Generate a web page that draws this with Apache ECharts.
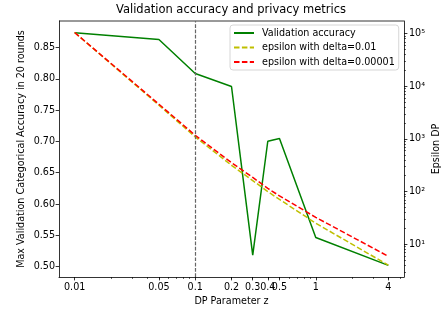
<!DOCTYPE html>
<html>
<head>
<meta charset="utf-8">
<script src="https://cdn.jsdelivr.net/npm/echarts@6/dist/echarts.min.js"></script>
<style>
  html, body { margin: 0; padding: 0; background: #fff; }
  #main { width: 443px; height: 311px; }
</style>
</head>
<body>
<div id="main"></div>
<script>
var myChart = echarts.init(document.getElementById('main'));

// DP noise parameter z (x axis)
const zValues = [0.01, 0.05, 0.1, 0.2, 0.3, 0.4, 0.5, 1, 4];
// max validation accuracy in 20 rounds
const accuracy = [0.874, 0.863, 0.8086, 0.7879, 0.5183, 0.7003, 0.7046, 0.5465, 0.5019];
// epsilon values
const epsDelta01 = [105000, 4365, 1096, 316, 162, 100, 71, 25.1, 4.0];
const epsDelta00001 = [105000, 4570, 1175, 355, 186, 115, 83, 32.4, 5.9];

const xTickLabels = ['0.01', '0.05', '0.1', '0.2', '0.3', '0.4', '0.5', '1', '4'];
const accTicks = [0.50, 0.55, 0.60, 0.65, 0.70, 0.75, 0.80, 0.85];
const epsTicks = [10, 100, 1000, 10000, 100000];
const supers = { 1: '\u00b9', 2: '\u00b2', 3: '\u00b3', 4: '\u2074', 5: '\u2075' };

// matplotlib style minor ticks
const xMinor = [];
[0.01, 0.1, 1].forEach(function (d) {
  for (let k = 2; k <= 9; k++) xMinor.push(d * k);
});
const yMinor = [];
[1, 10, 100, 1000, 10000, 100000].forEach(function (d) {
  for (let k = 2; k <= 9; k++) yMinor.push(d * k);
});

const pair = (ys) => zValues.map((z, i) => [z, ys[i]]);

const xMin = Math.pow(10, -2.13);
const xMax = Math.pow(10, 0.732);
const epsMin = Math.pow(10, 0.378);
const epsMax = Math.pow(10, 5.24);

const font = 'DejaVu Sans';
const fs = 9.6;
const axisColor = '#000';

option = {
  animation: false,
  title: {
    text: 'Validation accuracy and privacy metrics',
    left: 231,
    top: 4,
    padding: 0,
    textAlign: 'center',
    textStyle: { fontFamily: font, fontSize: 11.5, fontWeight: 'normal', color: '#000' }
  },
  grid: { left: 59, right: 39, top: 21, bottom: 34, outerBoundsMode: 'none', containLabel: false },
  legend: {
    orient: 'vertical',
    left: 230,
    top: 25,
    padding: [3, 4, 3, 3],
    itemWidth: 20,
    itemHeight: 10,
    itemGap: 4.5,
    borderColor: '#d6d6d6',
    borderWidth: 1,
    borderRadius: 3,
    backgroundColor: 'rgba(255,255,255,0.8)',
    itemStyle: { opacity: 0 },
    textStyle: { fontFamily: font, fontSize: fs, color: '#000', padding: [0, 0, 0, 3] },
    data: ['Validation accuracy', 'epsilon with delta=0.01', 'epsilon with delta=0.00001']
  },
  xAxis: [{
    type: 'log',
    logBase: 10,
    min: xMin,
    max: xMax,
    name: 'DP Parameter z',
    nameLocation: 'middle',
    nameGap: 19,
    nameMoveOverlap: false,
    nameTextStyle: { fontFamily: font, fontSize: fs, color: '#000' },
    axisLine: { lineStyle: { color: axisColor, width: 0.8 } },
    axisTick: { customValues: zValues, length: 3.4, lineStyle: { color: axisColor, width: 0.8 } },
    axisLabel: {
      customValues: zValues,
      margin: 5,
      fontFamily: font, fontSize: fs, color: '#000',
      formatter: function (v) {
        const i = zValues.findIndex((z) => Math.abs(z - v) / z < 1e-6);
        return i >= 0 ? xTickLabels[i] : '';
      }
    },
    splitLine: { show: false },
    minorTick: { show: false }
  }, {
    type: 'log',
    logBase: 10,
    min: xMin,
    max: xMax,
    position: 'bottom',
    axisLine: { show: false },
    axisLabel: { show: false },
    axisTick: { customValues: xMinor, length: 2, lineStyle: { color: axisColor, width: 0.6 } },
    splitLine: { show: false }
  }],
  yAxis: [{
    type: 'value',
    min: 0.4833,
    max: 0.8926,
    position: 'left',
    name: 'Max Validation Categorical Accuracy in 20 rounds',
    nameLocation: 'middle',
    nameGap: 33,
    nameMoveOverlap: false,
    nameTextStyle: { fontFamily: font, fontSize: fs, color: '#000' },
    axisLine: { show: true, lineStyle: { color: axisColor, width: 0.8 } },
    axisTick: { customValues: accTicks, length: 3.4, lineStyle: { color: axisColor, width: 0.8 } },
    axisLabel: {
      customValues: accTicks,
      margin: 4,
      fontFamily: font, fontSize: fs, color: '#000',
      formatter: (v) => v.toFixed(2)
    },
    splitLine: { show: false }
  }, {
    type: 'log',
    logBase: 10,
    min: epsMin,
    max: epsMax,
    position: 'right',
    name: 'Epsilon DP',
    nameLocation: 'middle',
    nameGap: 27,
    nameMoveOverlap: false,
    nameTextStyle: { fontFamily: font, fontSize: fs, color: '#000' },
    axisLine: { show: true, lineStyle: { color: axisColor, width: 0.8 } },
    axisTick: { customValues: epsTicks, length: 3.4, lineStyle: { color: axisColor, width: 0.8 } },
    axisLabel: {
      customValues: epsTicks,
      margin: 5,
      fontFamily: font, fontSize: fs, color: '#000',
      formatter: (v) => '10' + supers[Math.round(Math.log10(v))]
    },
    splitLine: { show: false }
  }, {
    type: 'log',
    logBase: 10,
    min: epsMin,
    max: epsMax,
    position: 'right',
    axisLine: { show: false },
    axisLabel: { show: false },
    axisTick: { customValues: yMinor.filter((v) => v > epsMin && v < epsMax), length: 2, lineStyle: { color: axisColor, width: 0.6 } },
    splitLine: { show: false }
  }],
  series: [{
    name: 'Validation accuracy',
    type: 'line',
    xAxisIndex: 0,
    yAxisIndex: 0,
    symbol: 'none',
    color: '#008000',
    lineStyle: { color: '#008000', width: 1.5 },
    data: pair(accuracy),
    z: 2
  }, {
    name: 'epsilon with delta=0.01',
    type: 'line',
    xAxisIndex: 0,
    yAxisIndex: 1,
    symbol: 'none',
    color: '#bfbf00',
    lineStyle: { color: '#bfbf00', width: 1.5, type: [5.5, 2.4] },
    data: pair(epsDelta01),
    z: 3
  }, {
    name: 'epsilon with delta=0.00001',
    type: 'line',
    xAxisIndex: 0,
    yAxisIndex: 1,
    symbol: 'none',
    color: '#ff0000',
    lineStyle: { color: '#ff0000', width: 1.5, type: [5.5, 2.4] },
    data: pair(epsDelta00001),
    z: 4,
    markLine: {
      silent: true,
      symbol: 'none',
      label: { show: false },
      lineStyle: { color: '#666', width: 1.2, type: [3.7, 1.6] },
      data: [{ xAxis: 0.1 }]
    }
  }],
  graphic: [{
    type: 'line',
    shape: { x1: 59, y1: 21, x2: 404, y2: 21 },
    style: { stroke: axisColor, lineWidth: 0.8 }
  }]
};

myChart.setOption(option);
</script>
</body>
</html>
